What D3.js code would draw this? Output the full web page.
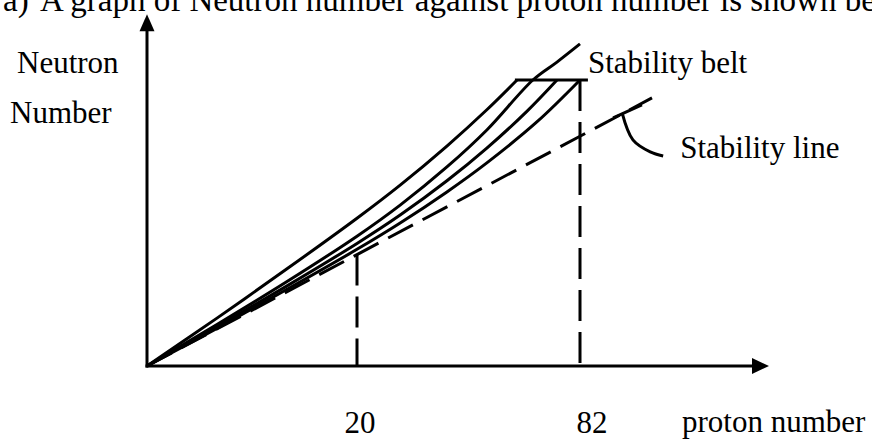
<!DOCTYPE html>
<html><head><meta charset="utf-8">
<script src="https://cdn.jsdelivr.net/npm/d3@7"></script>
<style>
html,body{margin:0;padding:0;background:#fff;overflow:hidden;}
svg{display:block;}
text{font-family:"Liberation Serif","Times New Roman",serif;fill:#000;}
</style></head><body>
<svg id="chart" width="872" height="440"></svg>
<script>
// ---- data (schematic) ----
const titleLabel = "a)";
const titleText = "A graph of Neutron number against proton number is shown below";
const yAxisLabel = ["Neutron", "Number"];
const xAxisLabel = "proton number";
const xTickValues = [20, 82];
const xTickLabels = ["20", "82"];
const xMax = 134.5;
const yMax = 155;

// four curves forming the stability belt (proton number Z, neutron number N)
const beltA_Z = [0, 6.7, 13.3, 20, 32, 45, 56.1, 64.5];
const beltA_N = [0, 21.2, 42.7, 65.1, 79.7, 96.9, 112.9, 126];
const beltB_Z = [0, 6.7, 13.3, 20, 32, 45, 56.1, 68.9, 75.6, 82];
const beltB_N = [0, 18.4, 37.1, 57.2, 70.9, 87.7, 104, 126, 133.9, 141.9];
const beltC_Z = [0, 6.7, 13.3, 20, 32, 45, 56.1, 67.3, 75.6];
const beltC_N = [0, 17.5, 35.2, 54, 66.5, 81.6, 96, 112.3, 126];
const beltD_Z = [0, 6.7, 13.3, 20, 32, 45, 56.1, 70, 82];
const beltD_N = [0, 16.7, 33.7, 51.4, 63, 76.7, 89.5, 107.5, 126];

// top of the belt
const beltTopZ = [63.9, 84.2];
const beltTopN = 126;

// dashed stability line
const stabZ = [0, 20, 82, 102];
const stabN = [0, 49.1, 101.2, 118.1];

// dashed drop lines
const dropZ = [20, 82];
const dropN = [49.1, 126];

// callout hook for "Stability line"
const hookTickZ = [91.2, 99.2];
const hookTickN = [109.3, 115.0];
const hookArcZ = [93.7, 96.7, 101.5, 105.1];
const hookArcN = [111.5, 99.6, 94.3, 92.5];

const annotations = ["Stability belt", "Stability line"];

// ---- drawing ----
const svg = d3.select("#chart");
const x = d3.scaleLinear().domain([0, 20, 82, xMax]).range([147, 357, 580, 769]);
const y = d3.scaleLinear().domain([0, 126]).range([366, 80]);

const zip = (a, b) => a.map((v, i) => [v, b[i]]);
const line = d3.line().x(d => x(d[0])).y(d => y(d[1]));
const smooth = d3.line().x(d => x(d[0])).y(d => y(d[1])).curve(d3.curveCatmullRom.alpha(0.5));

const SW = 3;

// axes
svg.append("line")
  .attr("x1", x(0)).attr("y1", y(0)).attr("x2", x(0)).attr("y2", y(yMax) + 14)
  .attr("stroke", "#000").attr("stroke-width", SW).attr("stroke-linecap", "square");
svg.append("line")
  .attr("x1", x(0)).attr("y1", y(0)).attr("x2", x(xMax) - 14).attr("y2", y(0))
  .attr("stroke", "#000").attr("stroke-width", SW).attr("stroke-linecap", "square");
svg.append("path")
  .attr("d", `M${x(0)},${y(yMax)} L${x(0) - 7.5},${y(yMax) + 17} L${x(0) + 7.5},${y(yMax) + 17} Z`)
  .attr("fill", "#000");
svg.append("path")
  .attr("d", `M${x(xMax)},${y(0)} L${x(xMax) - 17},${y(0) - 8} L${x(xMax) - 17},${y(0) + 8} Z`)
  .attr("fill", "#000");

// dashed stability line
svg.append("path")
  .attr("d", line(zip(stabZ, stabN)))
  .attr("fill", "none").attr("stroke", "#000").attr("stroke-width", SW)
  .attr("stroke-dasharray", "28,11");

// dashed drop lines (drawn from top down)
dropZ.forEach((z, i) => {
  svg.append("line")
    .attr("x1", x(z)).attr("y1", y(dropN[i])).attr("x2", x(z)).attr("y2", y(0))
    .attr("stroke", "#000").attr("stroke-width", SW)
    .attr("stroke-dasharray", "31,11");
});

// belt curves
[[beltA_Z, beltA_N], [beltB_Z, beltB_N], [beltC_Z, beltC_N], [beltD_Z, beltD_N]].forEach(([zs, ns]) => {
  svg.append("path")
    .attr("d", smooth(zip(zs, ns)))
    .attr("fill", "none").attr("stroke", "#000").attr("stroke-width", SW)
    .attr("stroke-linejoin", "round");
});

// belt top
svg.append("line")
  .attr("x1", x(beltTopZ[0])).attr("y1", y(beltTopN))
  .attr("x2", x(beltTopZ[1])).attr("y2", y(beltTopN))
  .attr("stroke", "#000").attr("stroke-width", SW);

// callout hook
svg.append("path")
  .attr("d", line(zip(hookTickZ, hookTickN)))
  .attr("fill", "none").attr("stroke", "#000").attr("stroke-width", SW);
svg.append("path")
  .attr("d", smooth(zip(hookArcZ, hookArcN)))
  .attr("fill", "none").attr("stroke", "#000").attr("stroke-width", SW);

// texts
const FS = 31;
svg.append("text").attr("x", 3).attr("y", 11).attr("font-size", 33).text(titleLabel);
svg.append("text").attr("x", 40).attr("y", 11).attr("font-size", 33).text(titleText);

svg.append("text").attr("x", 17).attr("y", 73).attr("font-size", FS).text(yAxisLabel[0]);
svg.append("text").attr("x", 10).attr("y", 123).attr("font-size", FS).text(yAxisLabel[1]);

svg.append("text").attr("x", x(beltTopZ[1])).attr("y", 73).attr("font-size", FS).text(annotations[0]);
svg.append("text").attr("x", x(hookArcZ[3]) + 17).attr("y", 158).attr("font-size", FS).text(annotations[1]);

const tickNudge = [3, 12];
xTickValues.forEach((v, i) => {
  svg.append("text").attr("x", x(v) + tickNudge[i]).attr("y", 433)
    .attr("text-anchor", "middle").attr("font-size", FS).text(xTickLabels[i]);
});
svg.append("text").attr("x", 682).attr("y", 432).attr("font-size", FS).text(xAxisLabel);
</script>
</body></html>
